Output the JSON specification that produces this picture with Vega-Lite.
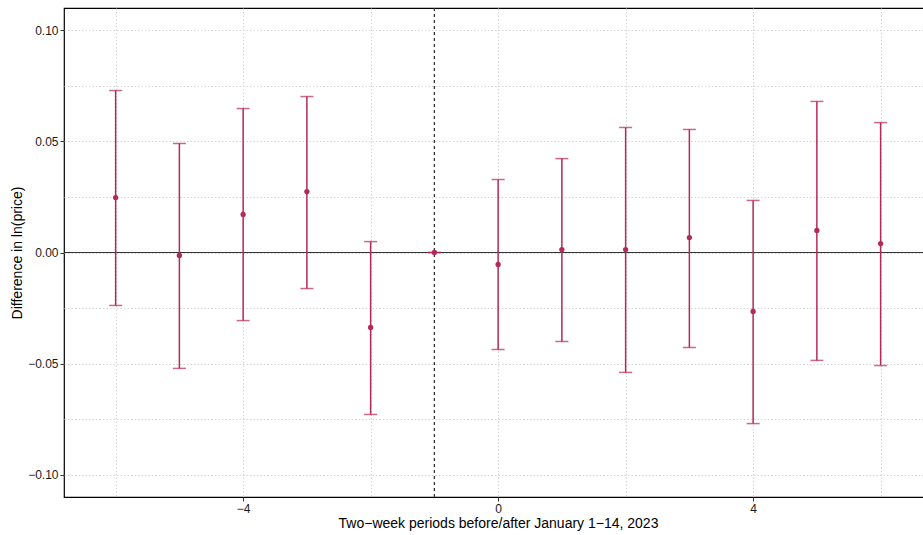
{
  "$schema": "https://vega.github.io/schema/vega-lite/v6.json",
  "width": 868,
  "height": 489,
  "autosize": "none",
  "padding": {"left": 64, "top": 8, "right": 0, "bottom": 38},
  "background": "white",
  "config": {
    "view": {"stroke": "black", "strokeWidth": 1.2},
    "font": "Liberation Sans",
    "axis": {
      "labelFont": "Liberation Sans",
      "titleFont": "Liberation Sans",
      "labelFontSize": 12,
      "titleFontSize": 14,
      "titleFontWeight": "normal",
      "labelColor": "#1a1a1a",
      "titleColor": "#000000",
      "domain": false,
      "tickColor": "#333333",
      "tickSize": 4,
      "gridColor": "#d4d4d4",
      "gridDash": [1.5, 2],
      "gridWidth": 1
    }
  },
  "data": {
    "values": [
      {"period": -6, "est": 0.0247, "lo": -0.0238, "hi": 0.0728},
      {"period": -5, "est": -0.0013, "lo": -0.0521, "hi": 0.049},
      {"period": -4, "est": 0.0171, "lo": -0.0306, "hi": 0.0647},
      {"period": -3, "est": 0.0274, "lo": -0.0162, "hi": 0.0701},
      {"period": -2, "est": -0.0337, "lo": -0.0728, "hi": 0.0049},
      {"period": -1, "est": 0.0, "lo": 0.0, "hi": 0.0},
      {"period": 0, "est": -0.0054, "lo": -0.0436, "hi": 0.0328},
      {"period": 1, "est": 0.0013, "lo": -0.04, "hi": 0.0422},
      {"period": 2, "est": 0.0013, "lo": -0.0539, "hi": 0.0562},
      {"period": 3, "est": 0.0067, "lo": -0.0427, "hi": 0.0553},
      {"period": 4, "est": -0.0265, "lo": -0.0769, "hi": 0.0234},
      {"period": 5, "est": 0.0099, "lo": -0.0485, "hi": 0.0679},
      {"period": 6, "est": 0.004, "lo": -0.0508, "hi": 0.0584}
    ]
  },
  "layer": [
    {
      "mark": {"type": "rule", "color": "#333333", "strokeWidth": 1.2},
      "data": {"values": [{"y0": 0}]},
      "encoding": {
        "y": {"field": "y0", "type": "quantitative"}
      }
    },
    {
      "mark": {"type": "rule", "color": "#333333", "strokeWidth": 1.3, "strokeDash": [3, 3]},
      "data": {"values": [{"x0": -1}]},
      "encoding": {
        "x": {"field": "x0", "type": "quantitative"}
      }
    },
    {
      "mark": {"type": "rule", "color": "#B3295A", "strokeWidth": 1.5},
      "encoding": {
        "x": {
          "field": "period",
          "type": "quantitative",
          "scale": {"domain": [-6.81, 6.806], "nice": false, "zero": false},
          "axis": {
            "title": "Two\u2212week periods before/after January 1\u221214, 2023",
            "values": [-6, -4, -2, 0, 2, 4, 6],
            "format": "d",
            "labelExpr": "datum.value % 4 === 0 ? datum.label : ''",
            "tickOpacity": {"condition": {"test": "datum.value % 4 === 0", "value": 1}, "value": 0},
            "titlePadding": 2
          }
        },
        "y": {
          "field": "lo",
          "type": "quantitative",
          "scale": {"domain": [-0.1099, 0.1099], "nice": false, "zero": false},
          "axis": {
            "title": "Difference in ln(price)",
            "values": [-0.1, -0.075, -0.05, -0.025, 0, 0.025, 0.05, 0.075, 0.1],
            "format": ".2f",
            "labelExpr": "round(datum.value * 1000) % 50 === 0 ? datum.label : ''",
            "tickOpacity": {"condition": {"test": "round(datum.value * 1000) % 50 === 0", "value": 1}, "value": 0},
            "titlePadding": 3
          }
        },
        "y2": {"field": "hi"}
      }
    },
    {
      "mark": {"type": "tick", "color": "#B3295A", "thickness": 1.5, "size": 13, "orient": "horizontal"},
      "encoding": {
        "x": {"field": "period", "type": "quantitative"},
        "y": {"field": "hi", "type": "quantitative"}
      }
    },
    {
      "mark": {"type": "tick", "color": "#B3295A", "thickness": 1.5, "size": 13, "orient": "horizontal"},
      "encoding": {
        "x": {"field": "period", "type": "quantitative"},
        "y": {"field": "lo", "type": "quantitative"}
      }
    },
    {
      "mark": {"type": "point", "filled": true, "color": "#B3295A", "size": 28, "opacity": 1},
      "encoding": {
        "x": {"field": "period", "type": "quantitative"},
        "y": {"field": "est", "type": "quantitative"}
      }
    }
  ]
}
